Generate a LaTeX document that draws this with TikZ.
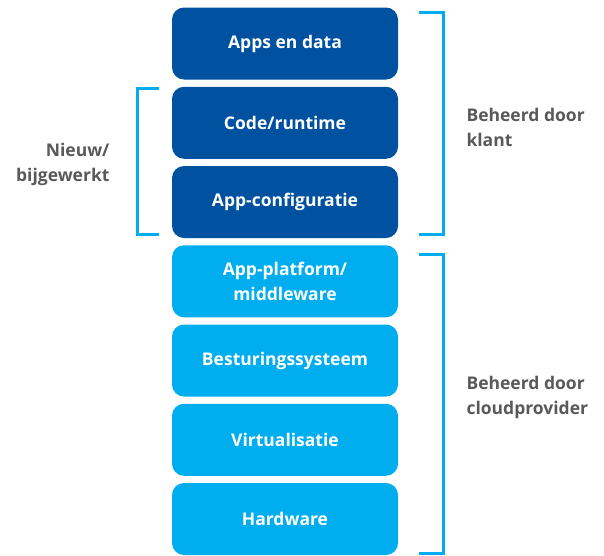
\documentclass[tikz,border=0pt]{standalone}
\usepackage{fontspec}
\setmainfont{Open Sans}
\definecolor{darkblue}{HTML}{0052A1}
\definecolor{lightblue}{HTML}{00AEEF}
\definecolor{labelgray}{HTML}{595959}
\tikzset{
  layer/.style={rounded corners=12pt, minimum width=226pt, minimum height=72pt,
    text=white, font=\fontsize{17.5}{25}\selectfont\bfseries, align=center},
  bracket/.style={lightblue, line width=3pt},
  sidelabel/.style={labelgray, font=\fontsize{17.5}{25}\selectfont\bfseries}
}
\begin{document}
\begin{tikzpicture}[x=1pt,y=-1pt]
    \useasboundingbox (0,0) rectangle (604,555);
    
    % Customer-managed layers
    \foreach \name/\k/\txt in {apps/0/Apps en data, code/1/{Code/runtime}, config/2/App-configuratie} {
        \node[layer, fill=darkblue] (\name) at (285, 43.5+79.25*\k) {\txt};
    }
    
    % Provider-managed layers
    \foreach \name/\k/\txt in {platform/3/{App-platform/\\middleware}, os/4/Besturingssysteem, virt/5/Virtualisatie, hw/6/Hardware} {
        \node[layer, fill=lightblue] (\name) at (285, 43.5+79.25*\k) {\txt};
    }
    
    % Brackets
    \draw[bracket] (419,12) -- (443,12) -- (443,234) -- (419,234);
    \draw[bracket] (419,254) -- (443,254) -- (443,553) -- (419,553);
    \draw[bracket] (159,88) -- (137,88) -- (137,234) -- (159,234);
    
    % Labels
    \node[sidelabel, align=right, anchor=east] (nieuw) at (113,164) {Nieuw/\\bijgewerkt};
    \node[sidelabel, align=left, anchor=west] (klant) at (463,127) {Beheerd door\\klant};
    \node[sidelabel, align=left, anchor=west] (provider) at (463,397) {Beheerd door\\cloudprovider};
\end{tikzpicture}
\end{document}
